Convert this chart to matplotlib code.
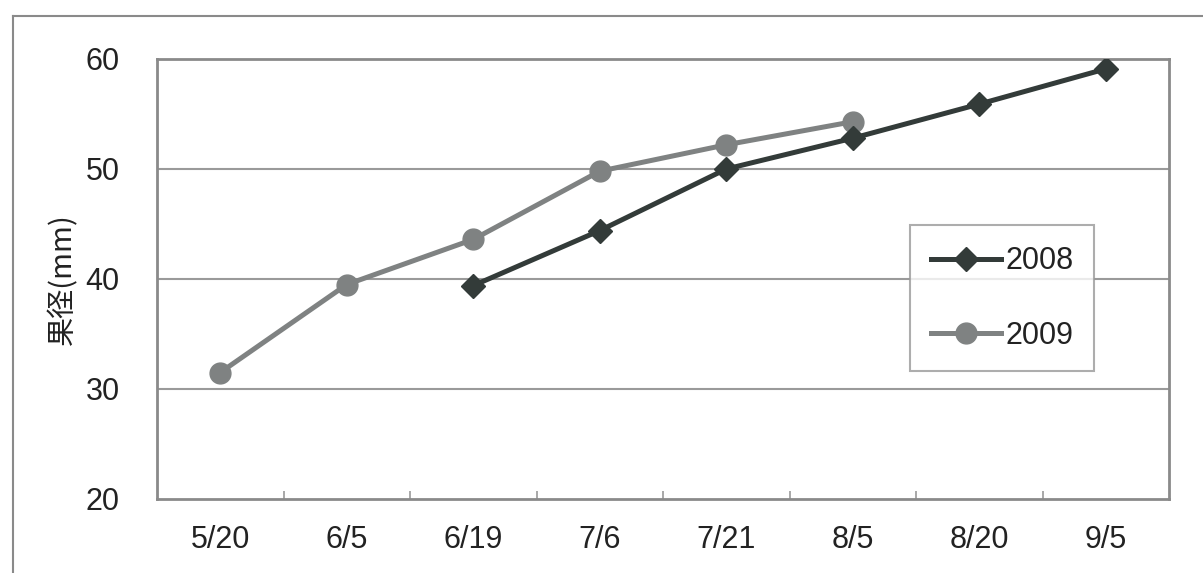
import matplotlib
matplotlib.use("Agg")
import matplotlib.pyplot as plt
from matplotlib.lines import Line2D
import numpy as np

categories = ["5/20", "6/5", "6/19", "7/6", "7/21", "8/5", "8/20", "9/5"]
series_2008 = [None, None, 39.4, 44.4, 50.0, 52.8, 55.9, 59.1]
series_2009 = [31.5, 39.5, 43.6, 49.8, 52.2, 54.3, None, None]
y_ticks = [20, 30, 40, 50, 60]
y_label = "果径(mm)"

plt.rcParams['font.family'] = ['Liberation Sans', 'Noto Sans CJK JP', 'DejaVu Sans']

fig = plt.figure(figsize=(12.03, 5.73), dpi=100)
fig.patch.set_facecolor('white')
ax = fig.add_axes([157/1203, 1-499/573, (1169-157)/1203, (499-59)/573])

x = np.arange(len(categories))
def arr(v):
    return np.array([np.nan if a is None else a for a in v], dtype=float)

ax.plot(x, arr(series_2008), color='#333b39', lw=3.6, marker='D', ms=12,
        label='2008', zorder=4)
ax.plot(x, arr(series_2009), color='#7f8282', lw=3.6, marker='o', ms=15,
        label='2009', zorder=3)

ax.set_xlim(-0.5, len(categories) - 0.5)
ax.set_ylim(20, 60)
ax.set_yticks(y_ticks)
ax.set_xticks(x)
ax.set_xticklabels(categories)
ax.set_xticks(np.arange(0.5, len(categories) - 1, 1), minor=True)
ax.tick_params(axis='x', which='major', length=0, pad=19, labelsize=22, labelcolor='#222222')
ax.tick_params(axis='x', which='minor', length=6, direction='in', color='#999999', width=1.2)
ax.tick_params(axis='y', length=0, pad=27, labelsize=22, labelcolor='#222222')

for yv in [30, 40, 50]:
    ax.axhline(yv, color='#9a9a9a', lw=1.5, zorder=1)

for s in ax.spines.values():
    s.set_color('#8a8a8a')
    s.set_linewidth(2)

ax.set_ylabel(y_label, fontsize=21, family=['Noto Sans CJK JP', 'DejaVu Sans'],
              color='#222222', labelpad=5)

leg = ax.legend(loc='center', bbox_to_anchor=(0.835, 0.456), fontsize=22,
                frameon=True, fancybox=False, edgecolor='#999999',
                handlelength=2.3, handletextpad=0.15, labelspacing=1.45,
                borderpad=0.68, borderaxespad=0)
leg.get_frame().set_linewidth(1.5)
for t in leg.get_texts():
    t.set_color('#222222')

# outer chart frame
fx = 13/1203
fy = 1 - 16/573
fig.add_artist(Line2D([fx, fx], [0, fy], transform=fig.transFigure, color='#8a8a8a', lw=1.5))
fig.add_artist(Line2D([fx, 1], [fy, fy], transform=fig.transFigure, color='#8a8a8a', lw=1.5))

fig.savefig('out.png', dpi=100)
